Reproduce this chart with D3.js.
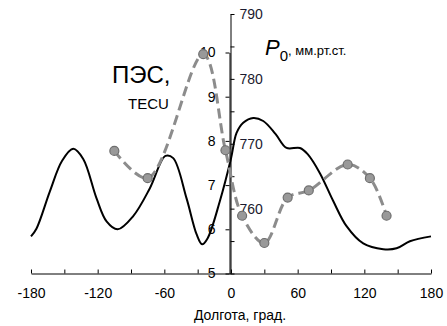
<!DOCTYPE html>
<html><head><meta charset="utf-8">
<script src="https://cdn.jsdelivr.net/npm/d3@7"></script>
<style>body{margin:0;background:#fff}svg{display:block;font-family:"Liberation Sans",Arial,sans-serif}</style>
</head><body><svg id="c" width="447" height="326"></svg>
<script>
// TEC (left axis), continuous curve
const tecLon = [-180,-175,-163,-152,-142,-133,-121,-112,-102,-88,-73,-59,-52,-40,-31,-26,-21,-10,0,5,11,20,29,40,50,62,69,80,92,104,119,137,149,161,180];
const tecVal = [5.84,6.02,6.86,7.55,7.82,7.59,6.70,6.18,6.00,6.30,6.93,7.66,7.61,6.70,5.89,5.66,5.80,6.64,7.60,8.18,8.41,8.52,8.45,8.16,7.84,7.84,7.70,7.27,6.64,6.07,5.68,5.55,5.57,5.73,5.84];
// Pressure P0 (right axis), station points
const pLon = [-105,-75,-25,-5,10,30,51,70,105,125,140];
const pVal = [768.9,764.7,783.8,769.0,758.9,754.7,761.7,762.8,766.8,764.7,758.9];
const xTicks = [-180,-120,-60,0,60,120,180];
const tecTicks = [5,6,7,8,9,10];
const pTicks = [760,770,780,790];

const svg = d3.select("#c");
const x = d3.scaleLinear().domain([-180,180]).range([31,431]);
const yT = d3.scaleLinear().domain([5,10]).range([273.5,52.5]);
const yP = d3.scaleLinear().domain([750,790]).range([273.5,14]);

// x axis
const xa = svg.append("g").attr("transform","translate(0,273.5)")
  .call(d3.axisBottom(x).tickValues(d3.range(-180,181,30)).tickSizeInner(-4).tickSizeOuter(0)
    .tickFormat(d => xTicks.includes(d) ? d : ""));
xa.select(".domain").attr("stroke","#000");
xa.selectAll("line").attr("stroke","#000");
xa.selectAll("text").attr("font-size",14).attr("fill","#000").attr("y",15).attr("dy","0.71em");

// TEC axis (left ticks)
const ta = svg.append("g").attr("transform","translate(229.5,0)")
  .call(d3.axisLeft(yT).tickValues(tecTicks).tickSizeInner(4).tickSizeOuter(0).tickPadding(10).tickFormat(d3.format("d")));
ta.select(".domain").attr("stroke","#000");
ta.selectAll("line").attr("stroke","#000");
ta.selectAll("text").attr("font-size",14).attr("fill","#000");

// Pressure axis (right ticks)
const pa = svg.append("g").attr("transform","translate(230.5,0)")
  .call(d3.axisRight(yP).tickValues(d3.range(750,791,5)).tickSizeInner(4).tickSizeOuter(0).tickPadding(5)
    .tickFormat(d => pTicks.includes(d) ? d : ""));
pa.select(".domain").attr("stroke","#000");
pa.selectAll("line").attr("stroke","#000");
pa.selectAll("text").attr("font-size",14).attr("fill","#1a1a2e");

// TEC line
svg.append("path").datum(tecLon.map((d,i)=>[d,tecVal[i]]))
  .attr("fill","none").attr("stroke","#000").attr("stroke-width",2)
  .attr("d", d3.line().x(d=>x(d[0])).y(d=>yT(d[1])).curve(d3.curveCatmullRom));

// Pressure dashed line + markers
const pd = pLon.map((d,i)=>[d,pVal[i]]);
svg.append("path").datum(pd)
  .attr("fill","none").attr("stroke","#8c8c8c").attr("stroke-width",3).attr("stroke-dasharray","10,5")
  .attr("d", d3.line().x(d=>x(d[0])).y(d=>yP(d[1])).curve(d3.curveCatmullRom));
svg.selectAll("circle.m").data(pd).enter().append("circle").attr("class","m")
  .attr("cx",d=>x(d[0])).attr("cy",d=>yP(d[1])).attr("r",4.5)
  .attr("fill","#999").attr("stroke","#6e6e6e").attr("stroke-width",1.2);

// Labels
svg.append("text").attr("x",112).attr("y",83).attr("font-size",24).attr("fill","#000").text("ПЭС,");
svg.append("text").attr("x",128).attr("y",109).attr("font-size",15).attr("fill","#000").text("TECU");
const p0 = svg.append("text").attr("x",265).attr("y",55).attr("fill","#000");
p0.append("tspan").attr("font-size",22).attr("font-style","italic").text("P");
p0.append("tspan").attr("font-size",15).attr("dy",6).text("0");
p0.append("tspan").attr("font-size",13).attr("dy",-6).text(", мм.рт.ст.");
svg.append("text").attr("x",240).attr("y",320).attr("text-anchor","middle").attr("font-size",14).attr("fill","#000").text("Долгота, град.");
</script></body></html>
